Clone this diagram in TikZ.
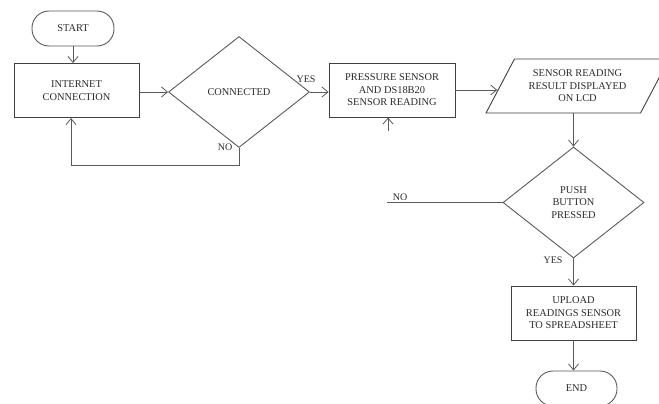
\documentclass[tikz,border=0pt]{standalone}
\usepackage{fontspec}
\setmainfont{Liberation Serif}
\usetikzlibrary{shapes.geometric,arrows.meta,calc}
\definecolor{linec}{HTML}{5A5A5A}
\definecolor{boxc}{HTML}{404040}
\definecolor{textc}{HTML}{2A2A2A}
\tikzset{
  base/.style={draw=boxc, line width=0.9pt, text=textc, align=center, inner sep=1pt,
    font=\fontsize{10.4}{12.6}\selectfont},
  procbox/.style={base, rectangle, minimum width=125pt, minimum height=54pt},
  term/.style={base, draw=linec, rectangle, rounded corners=17pt, minimum width=82pt, minimum height=35pt},
  dec/.style={base, draw=linec, diamond, aspect=1.26, minimum width=141pt, minimum height=111pt},
  io/.style={base, trapezium, trapezium left angle=55.6, trapezium right angle=124.4,
    trapezium stretches=true, minimum width=183pt, minimum height=54pt, inner sep=0pt},
  conn/.style={draw=linec, line width=0.8pt, -{Straight Barb[length=6pt,width=10pt]}},
  plain/.style={draw=linec, line width=0.8pt},
  lbl/.style={text=textc, font=\fontsize{10}{12}\selectfont, inner sep=0pt}
}
\begin{document}
\begin{tikzpicture}[x=1pt,y=-1pt]
\useasboundingbox[fill=white] (0,0) rectangle (659,404);
\node[term] (start) at (73,28.5) {START};
\node[procbox] (inet) at (76.5,90.5) {INTERNET\\CONNECTION};
\node[dec] (conn) at (239,92) {CONNECTED};
\node[procbox, minimum width=126pt] (pbox) at (392,90) {PRESSURE SENSOR\\AND DS18B20\\SENSOR READING};
\node[io] (para) at (577.5,86) {SENSOR READING\\RESULT DISPLAYED\\ON LCD};
\node[dec] (push) at (573.5,202.5) {PUSH\\BUTTON\\PRESSED};
\node[procbox] (upload) at (573.5,313) {UPLOAD\\READINGS SENSOR\\TO SPREADSHEET};
\node[term, minimum width=81pt] (endn) at (576.5,388.5) {END};

\coordinate (stub) at (388,131);
\coordinate (noend) at (387,202.5);
\coordinate (loopin) at (71,118);

\node[lbl] (yes1) at (306,79) {YES};
\node[lbl] (no1) at (225,147) {NO};
\node[lbl] (no2) at (400,197) {NO};
\node[lbl] (yes2) at (553,260) {YES};

\draw[conn] (start.south) -- (start.south |- inet.north);
\draw[conn] (inet.east |- conn.west) -- (conn.west);
\draw[conn] (conn.east) -- (conn.east -| pbox.west);
\draw[conn] (conn.south) -- ++(0,17) -| (loopin);
\draw[conn] (stub) -- (stub |- pbox.south);
\draw[conn, shorten >=2.5pt] (pbox.east) -- (pbox.east -| para.west);
\draw[conn] (push.north |- para.south) -- (push.north);
\draw[plain] (push.west) -- (noend);
\draw[conn] (push.south) -- (upload.north);
\draw[conn] (upload.south) -- (upload.south |- endn.north);
\end{tikzpicture}
\end{document}
